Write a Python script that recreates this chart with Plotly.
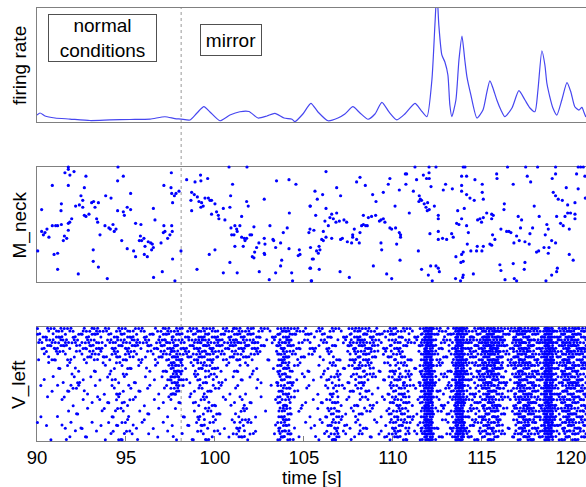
import plotly.graph_objects as go

# ---------------- data ----------------
X_TICKS = [90, 95, 100, 105, 110, 115, 120]
MIRROR_ONSET = 98.1  # s

# smoothed population firing rate (arbitrary units)
RATE_T = [90.00, 90.17, 90.45, 91.01, 91.85, 92.98, 94.10, 95.22, 96.35, 97.19, 97.75, 98.09,
          98.60, 98.99, 99.38, 99.72, 100.28, 100.84, 101.40, 101.91, 102.42, 102.92, 103.37,
          103.88, 104.33, 104.49, 104.94, 105.39, 105.79, 106.35, 106.91, 107.30, 107.75,
          108.15, 108.60, 108.99, 109.38, 109.78, 110.22, 110.67, 111.24, 111.57, 111.91,
          112.19, 112.36, 112.47, 112.58, 112.75, 112.92, 113.09, 113.20, 113.31, 113.54,
          113.71, 113.88, 114.04, 114.16, 114.38, 114.72, 115.06, 115.28, 115.45, 115.62,
          115.84, 116.07, 116.29, 116.69, 117.08, 117.42, 117.70, 117.98, 118.15, 118.37,
          118.54, 118.65, 118.82, 118.99, 119.21, 119.49, 119.78, 120.00, 120.22, 120.45,
          120.62, 120.73, 120.84]
RATE_V = [0.061, 0.079, 0.053, 0.035, 0.026, 0.013, 0.018, 0.022, 0.026, 0.046, 0.030, 0.026,
          0.018, 0.079, 0.134, 0.088, 0.011, 0.061, 0.090, 0.092, 0.035, 0.053, 0.076,
          0.035, 0.024, 0.003, 0.070, 0.164, 0.088, 0.011, 0.035, 0.070, 0.134,
          0.079, 0.024, 0.070, 0.173, 0.088, 0.018, 0.070, 0.164, 0.105, 0.046,
          0.368, 0.851, 1.150, 0.851, 0.588, 0.526, 0.412, 0.149, 0.046, 0.193,
          0.544, 0.754, 0.544, 0.395, 0.237, 0.035, 0.105, 0.263, 0.362, 0.298,
          0.193, 0.105, 0.046, 0.123, 0.275, 0.193, 0.123, 0.090, 0.281, 0.625,
          0.500, 0.342, 0.219, 0.123, 0.061, 0.193, 0.345, 0.263, 0.134, 0.105,
          0.128, 0.088, 0.044]

# M_neck raster: (spike time [s], neuron index 0-100)
MNECK_SPIKES = [
    (91.76, 100), (91.76, 98), (91.57, 95), (91.85, 93), (92.08, 96), (91.76, 84), (90.86, 84),
    (92.75, 92), (94.55, 100), (94.85, 92), (94.53, 88), (97.55, 95), (97.13, 84), (92.66, 82),
    (92.47, 75), (92.57, 71), (92.17, 66), (92.38, 67), (91.37, 68), (91.35, 62), (90.26, 63),
    (91.95, 55), (91.84, 52), (91.76, 51), (92.66, 58), (92.75, 57), (92.92, 59), (92.57, 65),
    (93.07, 69), (93.18, 70), (93.45, 69), (93.26, 65), (93.86, 75), (94.16, 73), (95.26, 77),
    (94.53, 62), (94.85, 61), (94.91, 58), (95.07, 65), (95.26, 63), (93.35, 55), (93.41, 52),
    (90.86, 49), (91.05, 49), (91.16, 49), (91.37, 50), (90.26, 44), (90.36, 41), (90.45, 43),
    (90.56, 46), (90.67, 39), (91.54, 40), (91.67, 38), (91.48, 36), (91.76, 45), (93.54, 41),
    (93.82, 49), (94.04, 47), (94.12, 46), (94.27, 50), (94.34, 44), (94.44, 46), (95.54, 51),
    (95.84, 50), (96.54, 64), (96.63, 54), (97.13, 49), (97.19, 44), (97.10, 43), (97.57, 49),
    (97.60, 44), (97.47, 41), (97.34, 38), (96.97, 34), (97.62, 69), (97.72, 75), (97.81, 77),
    (97.98, 79), (97.57, 77), (97.53, 82), (90.04, 27), (90.96, 24), (91.16, 25), (91.16, 11),
    (92.32, 7), (93.16, 28), (93.16, 18), (93.45, 13), (93.95, 3), (94.76, 36), (95.07, 29),
    (95.43, 27), (95.54, 22), (95.81, 40), (95.75, 36), (95.88, 36), (96.01, 38), (96.07, 31),
    (96.25, 35), (96.39, 34), (96.48, 33), (96.44, 28), (96.03, 24), (96.20, 22), (96.54, 30),
    (96.55, 4), (97.04, 9), (97.62, 20), (97.75, 1), (98.09, 27), (98.41, 89), (98.88, 87),
    (99.19, 93), (99.21, 88), (99.59, 90), (100.79, 100), (101.80, 100), (100.99, 85),
    (103.46, 88), (104.16, 89), (104.55, 85), (105.36, 66), (102.77, 72), (100.88, 75),
    (98.69, 78), (98.84, 76), (99.01, 74), (99.10, 70), (99.25, 69), (99.34, 66), (99.21, 65),
    (99.44, 73), (99.63, 73), (99.72, 71), (99.81, 71), (100.00, 68), (100.09, 61), (100.19, 58),
    (100.22, 55), (100.56, 54), (100.47, 64), (98.65, 71), (98.69, 62), (99.81, 59), (100.84, 65),
    (101.50, 57), (101.78, 70), (101.87, 66), (101.12, 49), (100.90, 47), (101.22, 46),
    (101.40, 49), (101.25, 44), (100.94, 41), (101.07, 41), (101.50, 39), (101.65, 38),
    (101.78, 38), (101.97, 41), (102.06, 41), (102.19, 48), (101.69, 36), (101.59, 31),
    (101.12, 31), (102.34, 30), (102.47, 34), (102.81, 33), (102.77, 38), (103.09, 49),
    (103.26, 37), (103.30, 36), (103.41, 30), (103.69, 34), (103.84, 43), (104.06, 47),
    (104.18, 60), (104.16, 29), (104.74, 28), (104.68, 23), (105.28, 43), (105.37, 30),
    (104.78, 24), (105.47, 20), (102.77, 25), (102.79, 24), (102.23, 26), (102.10, 22),
    (102.19, 21), (103.75, 19), (103.69, 14), (103.41, 8), (104.31, 8), (104.36, 1), (103.05, 2),
    (102.49, 9), (101.25, 8), (100.47, 8), (100.84, 17), (100.00, 28), (99.68, 24), (98.99, 11),
    (105.37, 12), (105.43, 1),
    (111.24, 100), (112.03, 100), (112.42, 100), (113.95, 100), (114.05, 100), (116.44, 100),
    (117.46, 100), (118.13, 100), (119.14, 100), (120.41, 100), (120.55, 100), (120.70, 100),
    (106.24, 96), (108.15, 91), (107.96, 87), (108.45, 84), (109.83, 90), (109.74, 85),
    (110.70, 94), (110.77, 94), (110.73, 85), (111.33, 89), (111.71, 93), (112.03, 95),
    (111.89, 90), (112.04, 90), (112.14, 83), (112.96, 85), (112.83, 80), (113.86, 92),
    (114.14, 92), (113.86, 84), (114.61, 89), (115.02, 85), (115.83, 94), (115.85, 90),
    (116.76, 85), (117.55, 92), (117.74, 87), (118.95, 90), (119.14, 94), (120.32, 94),
    (119.74, 82), (120.41, 81), (120.79, 92), (105.62, 79), (105.75, 72), (106.05, 76),
    (106.84, 82), (107.06, 75), (108.86, 76), (109.05, 70), (109.46, 78), (110.36, 80),
    (111.15, 79), (111.48, 75), (111.54, 72), (111.61, 71), (111.46, 70), (111.95, 69),
    (111.76, 68), (112.33, 66), (111.86, 65), (112.04, 63), (111.93, 62), (113.34, 81),
    (113.86, 79), (114.14, 76), (114.33, 73), (114.57, 71), (115.02, 78), (115.08, 72),
    (116.26, 68), (116.24, 63), (117.94, 66), (119.01, 78), (119.14, 75), (119.29, 72),
    (119.52, 71), (119.82, 67), (120.23, 69), (120.81, 73), (105.34, 66), (105.66, 58),
    (106.24, 64), (106.84, 60), (106.56, 59), (106.46, 56), (106.65, 55), (106.80, 52),
    (106.99, 53), (107.25, 54), (107.40, 52), (106.18, 53), (106.37, 49), (105.34, 46),
    (105.56, 45), (106.09, 44), (106.24, 39), (106.00, 37), (106.09, 36), (106.56, 38),
    (107.06, 37), (107.16, 38), (107.44, 35), (107.68, 34), (107.74, 41), (107.74, 39),
    (107.96, 37), (108.11, 34), (107.83, 46), (108.15, 43), (108.24, 49), (108.34, 50),
    (108.47, 49), (108.56, 49), (108.34, 58), (108.62, 56), (108.80, 57), (109.03, 58),
    (109.24, 53), (109.33, 54), (109.46, 55), (109.55, 52), (109.83, 47), (109.93, 46),
    (110.15, 47), (110.12, 66), (110.92, 60), (110.36, 43), (110.43, 41), (110.43, 39),
    (109.33, 34), (109.37, 28), (110.21, 33), (111.43, 27), (112.08, 42), (112.55, 44),
    (112.55, 37), (112.79, 38), (113.02, 37), (113.30, 42), (113.39, 39), (112.55, 58),
    (112.55, 55), (113.58, 51), (113.71, 50), (113.64, 62), (114.01, 64), (113.86, 55),
    (114.14, 49), (114.24, 43), (114.18, 33), (114.38, 27), (114.70, 27), (115.00, 27),
    (114.74, 31), (115.08, 31), (115.45, 33), (115.55, 32), (115.73, 37), (115.60, 41),
    (114.76, 54), (114.89, 55), (114.98, 52), (115.08, 56), (115.27, 60), (115.55, 59),
    (115.64, 58), (115.55, 55), (116.07, 46), (116.39, 44), (116.52, 44), (116.63, 43),
    (116.95, 40), (117.04, 57), (117.23, 54), (117.17, 47), (117.70, 42), (117.85, 47),
    (118.22, 57), (118.65, 50), (118.73, 46), (118.56, 41), (118.92, 36), (119.14, 34),
    (118.77, 30), (118.49, 30), (118.19, 27), (118.07, 26), (118.73, 25), (119.20, 57),
    (119.42, 51), (119.57, 49), (119.67, 57), (119.82, 60), (119.98, 60), (120.23, 59),
    (120.23, 55), (119.91, 46), (119.91, 24), (120.13, 19), (116.80, 34), (117.10, 36),
    (117.42, 35), (117.66, 33), (116.76, 16), (117.42, 17), (116.01, 15), (117.38, 11),
    (116.07, 10), (105.53, 20), (105.71, 27), (105.81, 25), (105.90, 28), (105.85, 31),
    (105.34, 12), (105.86, 11), (107.03, 9), (107.55, 4), (108.90, 14), (109.65, 7),
    (109.93, 3), (110.40, 19), (111.61, 11), (112.12, 14), (112.42, 14), (112.55, 12),
    (112.61, 9), (112.21, 1), (111.99, 6), (113.54, 22), (113.86, 24), (113.95, 26),
    (113.82, 17), (113.95, 18), (113.52, 3), (113.80, 1), (113.92, 4), (113.95, 6),
    (114.52, 7), (116.30, 2), (116.82, 3), (116.95, 1), (118.60, 1), (118.92, 6),
    (119.20, 9), (119.24, 12), (105.41, 1),
]

# V_left raster, read as spike counts per 0.25 s bin (columns from 90 s) and per
# tenth of the neuron population (characters, top -> bottom, hex digits)
VLEFT_T0 = 90.0
VLEFT_BIN = 0.25
VLEFT_COUNTS = [
    "3210010110", "2310100000", "3421001010", "3420110001",   # 90
    "4431010100", "4421101010", "3421011011", "2311120111",   # 91
    "3321121101", "2211210110", "3420111011", "4431010101",   # 92
    "4441101010", "4431011001", "3321101110", "2221111101",   # 93
    "3321211111", "3432121211", "4431121212", "4431212122",   # 94
    "4442112112", "3431111011", "3421111011", "2311010110",   # 95
    "3321111110", "2311010101", "2321101010", "3431010101",   # 96
    "4532111010", "4542211101", "4567761011", "4567761101",   # 97
    "4454311101", "3331100110", "3431111011", "4542212111",   # 98
    "5654322222", "5654322232", "4553222222", "4543322212",   # 99
    "4542221211", "3431111101", "3421101010", "4531011011",   # 100
    "5642111122", "5542111233", "4531112233", "4521101122",   # 101
    "4531101011", "3421110101", "3210101000", "2210000100",   # 102
    "2110010000", "2211101011", "5555444445", "6666555556",   # 103
    "6655554445", "4322222112", "3321110101", "2221101100",   # 104
    "3211111010", "2321010110", "2210101011", "2211111111",   # 105
    "3211111111", "3322222322", "3222333445", "2222333445",   # 106
    "2111111111", "2211111121", "4432221111", "4543322211",   # 107
    "5654432222", "5654322221", "4543322211", "4542211111",   # 108
    "3321111011", "2211101101", "3222111112", "4433333333",   # 109
    "4443344444", "4433444444", "3333444443", "3322333333",   # 110
    "2211111111", "2211111111", "4444444444", "cccccccccc",   # 111
    "cccccccccc", "4433322222", "3322222212", "3321222121",   # 112
    "3322222222", "3333333333", "cccccccccc", "cccccccccc",   # 113
    "5544433333", "5543333333", "4543333332", "5644433333",   # 114
    "9988766555", "aa99877666", "aa99877765", "9988766554",   # 115
    "6654433322", "4332222211", "3322211111", "7765544433",   # 116
    "9988777665", "8877777776", "7766777776", "6655666655",   # 117
    "5544444433", "5544444444", "cccccccccc", "cccccccccc",   # 118
    "5544444433", "5544433333", "8877766665", "9988877776",   # 119
    "8877766665", "7766655554", "6665555544", "6655554444",   # 120
]

# ---------------- build ----------------
# fixed in-cell placement pattern (4x4 lattice, spread-out order)
CELL_OFFS = [(0.12, 0.14), (0.62, 0.60), (0.14, 0.64), (0.63, 0.11), (0.38, 0.36),
             (0.88, 0.87), (0.36, 0.88), (0.87, 0.38), (0.10, 0.37), (0.60, 0.86),
             (0.13, 0.90), (0.64, 0.35), (0.37, 0.12), (0.89, 0.62), (0.39, 0.63),
             (0.86, 0.13)]
ROW_H = 10.0
vx, vy = [], []
for c, col in enumerate(VLEFT_COUNTS):
    t0 = VLEFT_T0 + c * VLEFT_BIN
    for r, ch in enumerate(col):
        n = int(ch, 16)
        top = 100.0 - r * ROW_H
        for k in range(n):
            fx, fy = CELL_OFFS[(c * 5 + r * 3 + k) % 16]
            vx.append(t0 + fx * VLEFT_BIN)
            vy.append(top - fy * ROW_H)

mx = [s[0] for s in MNECK_SPIKES]
my = [s[1] for s in MNECK_SPIKES]

W, H = 586, 487
XD = [37 / W, 1.0]
def ydom(top_px, bot_px):
    return [1 - bot_px / H, 1 - top_px / H]

D1 = ydom(8, 122)
D2 = ydom(167, 282)
D3 = ydom(327, 441)

BLUE = "#0000ff"
FRAME = "#808080"
FONT = "Liberation Sans, Arial, sans-serif"

fig = go.Figure()
fig.add_trace(go.Scatter(x=RATE_T, y=RATE_V, mode="lines", xaxis="x", yaxis="y",
                         line=dict(color="#4646f0", width=1.2, shape="spline", smoothing=0.6),
                         showlegend=False, hoverinfo="skip"))
fig.add_trace(go.Scatter(x=mx, y=my, mode="markers", xaxis="x2", yaxis="y2",
                         marker=dict(color=BLUE, size=3.2, line=dict(width=0)),
                         cliponaxis=False, showlegend=False, hoverinfo="skip"))
fig.add_trace(go.Scatter(x=vx, y=vy, mode="markers", xaxis="x3", yaxis="y3",
                         marker=dict(color=BLUE, size=3.0, line=dict(width=0)),
                         cliponaxis=False, showlegend=False, hoverinfo="skip"))

X_RANGE = [90, 120.85]
xcommon = dict(range=X_RANGE, domain=XD, showline=True, mirror=True, linecolor=FRAME,
               linewidth=1, showgrid=False, zeroline=False, tickvals=X_TICKS,
               automargin=False, layer="below traces")
ycommon = dict(showline=True, mirror=False, linecolor=FRAME, linewidth=1, showgrid=False,
               zeroline=False, showticklabels=False, ticks="", automargin=False,
               layer="below traces")

fig.update_layout(
    width=W, height=H, margin=dict(l=0, r=0, t=0, b=0, autoexpand=False),
    paper_bgcolor="white", plot_bgcolor="white",
    font=dict(family=FONT, color="black", size=18),
    xaxis=dict(xcommon, anchor="y", showticklabels=False, ticks=""),
    xaxis2=dict(xcommon, anchor="y2", showticklabels=False, ticks=""),
    xaxis3=dict(xcommon, anchor="y3", showticklabels=True, ticks="inside", ticklen=5,
                tickcolor=FRAME, ticktext=[str(v) for v in X_TICKS],
                ticklabeloverflow="allow",
                tickfont=dict(family=FONT, size=18.5, color="black")),
    yaxis=dict(ycommon, domain=D1, anchor="x", range=[0, 1]),
    yaxis2=dict(ycommon, domain=D2, anchor="x2", range=[0, 100]),
    yaxis3=dict(ycommon, domain=D3, anchor="x3", range=[0, 100]),
)

# dotted line marking mirror onset
fig.add_shape(type="line", xref="x3", yref="paper", x0=MIRROR_ONSET, x1=MIRROR_ONSET,
              y0=D3[0], y1=D1[1], line=dict(color="#999999", width=1, dash="dot"),
              layer="below")

ann = []
for label, dom in [("firing rate", D1), ("M_neck", D2), ("V_left", D3)]:
    ann.append(dict(text=label, xref="paper", yref="paper", x=19 / W, y=(dom[0] + dom[1]) / 2,
                    xanchor="center", yanchor="middle", textangle=-90, showarrow=False,
                    font=dict(family=FONT, size=19, color="black")))
ann.append(dict(text="time [s]", xref="paper", yref="paper", x=(XD[0] + XD[1]) / 2,
                y=1 - 477 / H, xanchor="center", yanchor="middle", showarrow=False,
                font=dict(family=FONT, size=18.5, color="black")))
ann.append(dict(text="normal<br>conditions", xref="paper", yref="paper", x=102.5 / W,
                y=1 - 38 / H, xanchor="center", yanchor="middle", showarrow=False,
                width=107, height=46, borderpad=0, bordercolor="#505050", borderwidth=1,
                bgcolor="white", font=dict(family=FONT, size=19, color="black")))
ann.append(dict(text="mirror", xref="paper", yref="paper", x=231 / W,
                y=1 - 40 / H, xanchor="center", yanchor="middle", showarrow=False,
                width=60, height=30, borderpad=0, bordercolor="#505050", borderwidth=1,
                bgcolor="white", font=dict(family=FONT, size=19, color="black")))
fig.update_layout(annotations=ann)

fig.write_html("out.html", config={"displayModeBar": False},
               post_script="document.body.style.margin='0';document.body.style.overflow='hidden';")
